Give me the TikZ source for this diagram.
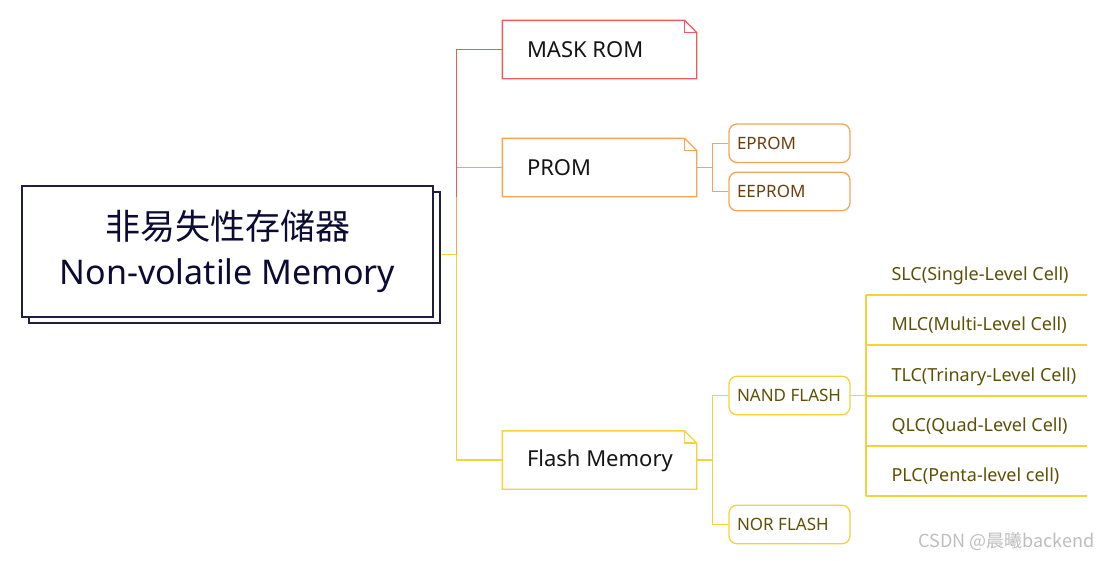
\documentclass[tikz,border=0pt]{standalone}
\usepackage{fontspec}
\setmainfont{Noto Sans}
\newfontfamily\cjk{Noto Sans CJK SC}
\definecolor{cred}{HTML}{F05A5A}
\definecolor{corange}{HTML}{F5A456}
\definecolor{cyellow}{HTML}{F5D13A}
\definecolor{croot}{HTML}{1E1E40}
\definecolor{croottext}{HTML}{0B0B33}
\definecolor{cbrown}{HTML}{6B3F10}
\definecolor{colive}{HTML}{5E5004}
\definecolor{cdark}{HTML}{151515}
\definecolor{cwm}{HTML}{BDBDBD}
\newcommand\foldframe[2]{%
  \draw[#2, line join=miter] (#1.south west) -- (#1.north west) -- ([xshift=-12pt]#1.north east) -- ([yshift=-12pt]#1.north east) -- (#1.south east) -- cycle;
  \draw[#2] ([xshift=-12pt]#1.north east) |- ([yshift=-12pt]#1.north east);}
\begin{document}
\begin{tikzpicture}[x=1pt,y=-1pt,line width=1.3pt,
  rootbox/.style={draw=croot, fill=white, minimum width=411pt, minimum height=131pt, inner sep=0pt},
  foldbox/.style={minimum width=193pt, minimum height=57pt, inner sep=0pt},
  boxtext/.style={anchor=west, text=cdark, font=\fontsize{22}{26}\selectfont, inner sep=0pt},
  roundbox/.style={draw=#1, rounded corners=8pt, minimum width=121pt, minimum height=38.5pt, inner sep=0pt},
  subtext/.style={anchor=west, text=#1, font=\fontsize{17}{20}\selectfont, inner sep=0pt},
  leaftext/.style={anchor=west, text=colive, font=\fontsize{18}{21}\selectfont, inner sep=0pt},
  leafbox/.style={minimum width=220pt, minimum height=50pt, inner sep=0pt},
  leafline/.style={draw=cyellow, line width=1.6pt},
]
\useasboundingbox (0,0) rectangle (1109,560);
% root
\node[rootbox] (shadow) at (234.5,257.5) {};
\node[rootbox, align=center, text=croottext, font=\fontsize{34}{45}\selectfont] (root) at (227.5,251.5)
  {{\cjk\fontsize{35}{45}\selectfont 非易失性存储器}\\Non-volatile Memory};
% junctions
\coordinate (j1) at (456.5,254.5);
\coordinate (jm) at (456.5,197);
% level 1
\node[foldbox] (mask) at (599.5,49.5) {};
\node[foldbox] (prom) at (599.5,167.5) {};
\node[foldbox] (flash) at (599.5,460) {};
\foldframe{mask}{cred}
\foldframe{prom}{corange}
\foldframe{flash}{cyellow}
\node[boxtext] (maskt) at ([xshift=24pt]mask.west) {MASK ROM};
\node[boxtext] (promt) at ([xshift=24pt]prom.west) {PROM};
\node[boxtext] (flasht) at ([xshift=24pt,yshift=-1pt]flash.west) {Flash Memory};
\draw[corange] (shadow.east|-j1) -- (j1) |- (prom.west);
\draw[cred] (jm) |- (mask.west);
\draw[cyellow] (shadow.east|-j1) -- (j1) |- (flash.west);
% PROM children
\coordinate (j2) at (712.5,167.5);
\node[roundbox=corange] (eprom) at (789.5,143.25) {};
\node[roundbox=corange] (eeprom) at (789.5,191.5) {};
\node[subtext=cbrown] at ([xshift=8pt]eprom.west) {EPROM};
\node[subtext=cbrown] at ([xshift=8pt]eeprom.west) {EEPROM};
\draw[corange] (prom.east) -- (j2) |- (eprom.west);
\draw[corange] (j2) |- (eeprom.west);
% Flash children
\coordinate (j4) at (712.5,460);
\node[roundbox=cyellow] (nand) at (789.5,395.5) {};
\node[roundbox=cyellow] (nor) at (789.5,524.5) {};
\node[subtext=colive] at ([xshift=8pt]nand.west) {NAND FLASH};
\node[subtext=colive] at ([xshift=8pt]nor.west) {NOR FLASH};
\draw[cyellow] (flash.east) -- (j4) |- (nand.west);
\draw[cyellow] (j4) |- (nor.west);
% NAND leaves
\coordinate (j3) at (866.5,395.5);
\foreach \n/\y/\t in {slc/294.5/SLC(Single-Level Cell), mlc/344.5/MLC(Multi-Level Cell), tlc/395.5/TLC(Trinary-Level Cell), qlc/445.5/QLC(Quad-Level Cell), plc/495.5/PLC(Penta-level cell)}{
  \node[leafbox] (\n) at (976.5,\y-25) {};
  \node[leaftext] at ([xshift=25pt,yshift=-6pt]\n.west) {\t};
  \path[leafline] (\n.south west) -- (\n.south east);
}
\draw[cyellow] (nand.east) -- (j3);
\path[leafline] (slc.south west) -- (plc.south west);
% watermark
\node[anchor=east, text=cwm, font=\cjk\fontsize{18}{21}\selectfont, inner sep=0pt] (wm) at (1095,541) {CSDN @晨曦backend};
\end{tikzpicture}
\end{document}
